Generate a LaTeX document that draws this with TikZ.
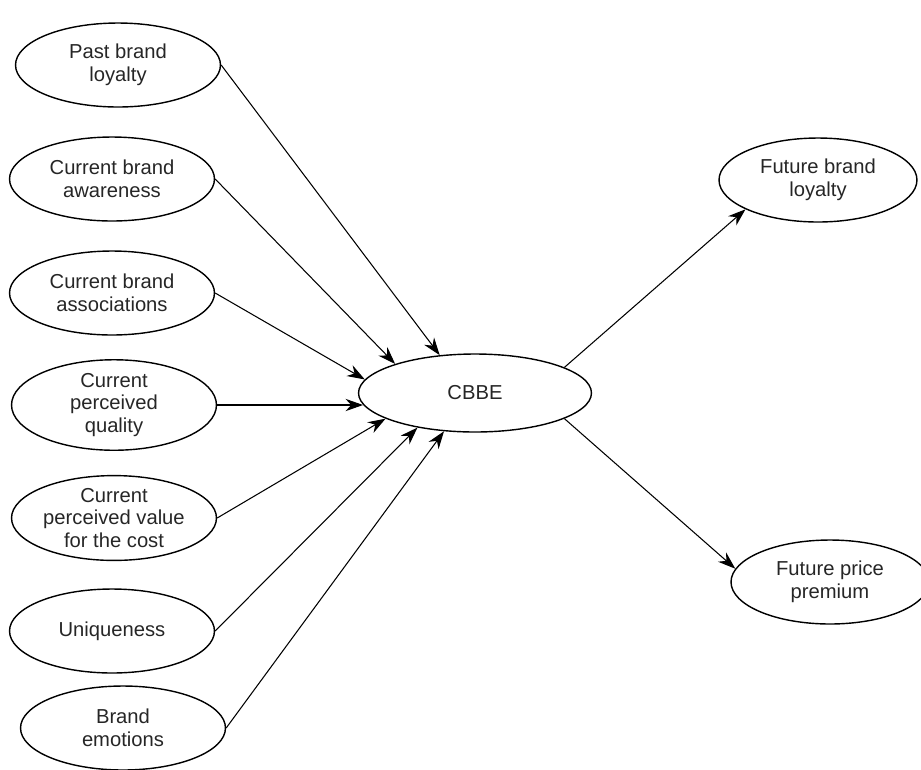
\documentclass[tikz,border=0pt]{standalone}
\usepackage{fontspec}
\setmainfont{Liberation Sans}
\usetikzlibrary{shapes.geometric,arrows.meta}
\tikzstyle{arrow} = [-{Stealth[length=10pt,width=7pt]},line width=0.6pt]
\tikzstyle{factor} = [draw,ellipse,line width=0.8pt,inner sep=0pt,minimum width=4.1cm,minimum height=1.68cm,align=center,text=black!85,font=\fontsize{11.5}{13}\selectfont]
\tikzstyle{core} = [factor,minimum width=4.66cm,minimum height=1.56cm]
\tikzstyle{outcome} = [factor,minimum width=3.96cm,minimum height=1.68cm]

\begin{document}
\begin{tikzpicture}[x=0.02cm,y=-0.02cm]
      \useasboundingbox (0,0) rectangle (921,769);

      \node[factor] (plo) at (118,65) {Past brand\\loyalty};
      \node[factor] (cba) at (112,179) {Current brand\\awareness};
      \node[factor] (cbs) at (112,293) {Current brand\\associations};
      \node[factor] (cpq) at (114,405) {Current\\perceived\\quality};
      \node[factor] (cpv) at (114,518) {Current\\perceived value\\for the cost};
      \node[factor] (uni) at (112,631) {Uniqueness};
      \node[factor] (bem) at (123,728) {Brand\\emotions};

      \node[core] (cbbe) at (475,393) {CBBE};

      \node[outcome] (fbl) at (818,180) {Future brand\\loyalty};
      \node[outcome] (fpp) at (830,582) {Future price\\premium};

      \draw[arrow] (plo.east) -- (cbbe.133);
      \draw[arrow] (cba.east) -- (cbbe.160);
      \draw[arrow] (cbs.east) -- (cbbe.173);
      \draw[arrow] (cpq.east) -- (cbbe.186 |- cpq.east);
      \draw[arrow] (cpv.east) -- (cbbe.196);
      \draw[arrow] (uni.east) -- (cbbe.211);
      \draw[arrow] (bem.east) -- (cbbe.231);
      \draw[arrow] (cbbe.16) -- (fbl.202);
      \draw[arrow] (cbbe.344) -- (fpp.172);
    \end{tikzpicture}
\end{document}
